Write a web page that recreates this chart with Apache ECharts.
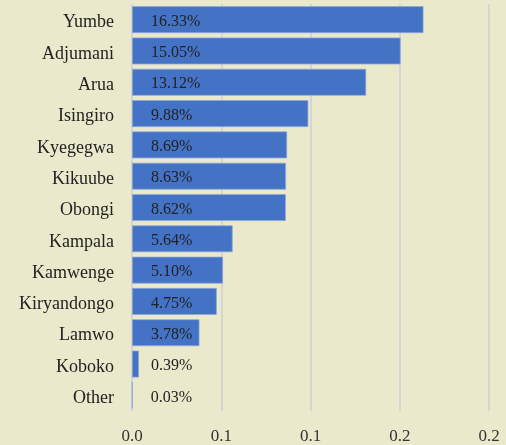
<!DOCTYPE html>
<html>
<head>
<meta charset="utf-8">
<script src="https://cdn.jsdelivr.net/npm/echarts@6/dist/echarts.min.js"></script>
<style>
  html, body { margin: 0; padding: 0; background: #ebe9cc; }
  #chart { width: 506px; height: 445px; }
</style>
</head>
<body>
<div id="chart"></div>
<script>
// districts, top to bottom
const districts = ['Yumbe', 'Adjumani', 'Arua', 'Isingiro', 'Kyegegwa', 'Kikuube', 'Obongi',
  'Kampala', 'Kamwenge', 'Kiryandongo', 'Lamwo', 'Koboko', 'Other']
// share of total
const shares = [0.1633, 0.1505, 0.1312, 0.0988, 0.0869, 0.0863, 0.0862,
  0.0564, 0.0510, 0.0475, 0.0378, 0.0039, 0.0003]
// x axis labels as printed (rounded to one decimal)
const tickLabels = ['0.0', '0.1', '0.1', '0.2', '0.2']

const chart = echarts.init(document.getElementById('chart'))
chart.setOption({
  backgroundColor: '#ebe9cc',
  animation: false,
  grid: {
    left: 132,
    right: 17,
    top: 4,
    bottom: 32,
    containLabel: false
  },
  xAxis: {
    type: 'value',
    min: 0,
    max: 0.2,
    interval: 0.05,
    axisLine: { show: false },
    axisTick: { show: false },
    splitLine: {
      show: true,
      lineStyle: { color: '#d5d5d2', width: 2 }
    },
    axisLabel: {
      margin: 17,
      color: '#333',
      fontFamily: 'Liberation Serif',
      fontSize: 17,
      formatter(v, i) {
        return tickLabels[i]
      }
    }
  },
  yAxis: {
    type: 'category',
    inverse: true,
    data: districts,
    axisLine: { show: false },
    axisTick: { show: false },
    splitLine: { show: false },
    axisLabel: {
      margin: 18,
      color: '#222',
      fontFamily: 'Liberation Serif',
      fontSize: 18,
      verticalAlign: 'top',
      lineHeight: 6
    }
  },
  series: [{
    type: 'bar',
    data: shares,
    barCategoryGap: '14%',
    itemStyle: {
      color: '#4472c4',
      borderColor: '#8fa8dc',
      borderWidth: 0.8
    },
    label: {
      show: true,
      position: [19, '50%'],
      offset: [0, 2],
      align: 'left',
      verticalAlign: 'middle',
      color: '#222',
      fontFamily: 'Liberation Serif',
      fontSize: 16,
      formatter(p) {
        return (p.value * 100).toFixed(2) + '%'
      }
    }
  }]
})
</script>
</body>
</html>
